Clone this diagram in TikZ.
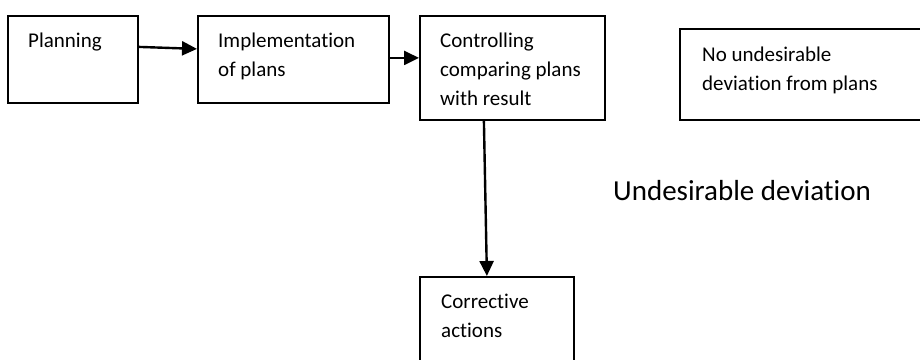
\documentclass[tikz,border=0pt]{standalone}
\usepackage{fontspec}
\setmainfont{Carlito}[Ligatures=NoCommon]
\usetikzlibrary{arrows.meta}
\tikzset{
  box/.style={draw=black, line width=1.8pt, inner sep=0pt, anchor=north west},
  lbl/.style={inner sep=0pt, anchor=base west, align=left, font=\fontsize{21}{29}\selectfont},
  arr/.style={line width=2.4pt, -{Triangle[length=15pt,width=14pt]}}
}
\begin{document}
\begin{tikzpicture}[x=1pt,y=-1pt]
\useasboundingbox (0,0) rectangle (920,359);
\clip (0,0) rectangle (920,359);
\fill[white] (0,0) rectangle (920,359);
\node[box, minimum width=130pt, minimum height=87pt] (plan) at (7,15) {};
\node[box, minimum width=191pt, minimum height=87pt] (impl) at (197,15) {};
\node[box, minimum width=185pt, minimum height=104pt] (ctrl) at (419,15) {};
\node[box, minimum width=300pt, minimum height=91pt] (nodev) at (679,28) {};
\node[box, minimum width=154pt, minimum height=120pt] (corr) at (419,276) {};
% anchor = baseline of the last line
\node[lbl] (tplan) at ([shift={(21pt,-32pt)}]plan.north west) {Planning};
\node[lbl] (timpl) at ([shift={(21pt,-61pt)}]impl.north west) {Implementation\\of plans};
\node[lbl] (tctrl) at ([shift={(21pt,-90pt)}]ctrl.north west) {Controlling\\comparing plans\\with result};
\node[lbl] (tnodev) at ([shift={(23pt,-62pt)}]nodev.north west) {No undesirable\\deviation from plans};
\node[lbl] (tcorr) at ([shift={(22pt,-61pt)}]corr.north west) {Corrective\\actions};
\node[inner sep=0pt, anchor=base west, font=\fontsize{29}{35}\selectfont] (undev) at (613,200) {Undesirable deviation};
\draw[arr] ([yshift=12.5pt]plan.east) -- ([yshift=10.5pt]impl.west);
\draw[arr] ([yshift=1.5pt]impl.east) -- ([yshift=10pt]ctrl.west);
\draw[arr] ([xshift=-28.5pt]ctrl.south) -- ([xshift=-10pt]corr.north);
\end{tikzpicture}
\end{document}
